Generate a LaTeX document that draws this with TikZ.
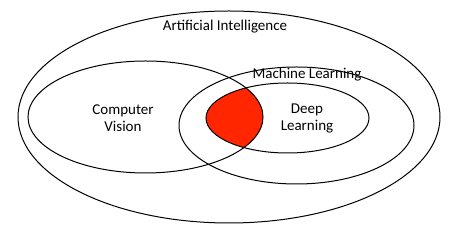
\documentclass[tikz,border=0pt]{standalone}
\usepackage{fontspec}
\setmainfont{Carlito}
\usepackage{xcolor}
\usetikzlibrary{positioning, shapes.geometric}
\definecolor{overlapred}{RGB}{255,38,0}
\tikzset{field/.style={draw, ellipse, line width=1pt, inner sep=0pt},
label/.style={font=\fontsize{15}{17}\selectfont, align=center, inner sep=0pt}
}

\begin{document}
\begin{tikzpicture}[x=1pt, y=1pt]
\useasboundingbox (0,0) rectangle (450,232);
 % overlap of vision and deep learning
 \begin{scope}
  \clip (145.5,115) ellipse [x radius=117.5, y radius=56];
  \fill[overlapred] (287.5,114) ellipse [x radius=81.5, y radius=35];
 \end{scope}
 \node[field, minimum width=422pt, minimum height=212pt] (ai) at (229,115) {};
 \node[field, minimum width=235pt, minimum height=112pt] (cv) at (145.5,115) {};
 \node[field, minimum width=235pt, minimum height=117pt] (ml) at (296.5,106.5) {};
 \node[field, minimum width=163pt, minimum height=70pt] (dl) at (287.5,114) {};
 \node[label] (ailabel) at (225,205) {Artificial Intelligence};
 \node[label] (mllabel) at (307,157) {Machine Learning};
 \node[label] (cvlabel) at (123,114) {Computer\\Vision};
 \node[label] (dllabel) at (307,114) {Deep\\Learning};
\end{tikzpicture}
\end{document}
